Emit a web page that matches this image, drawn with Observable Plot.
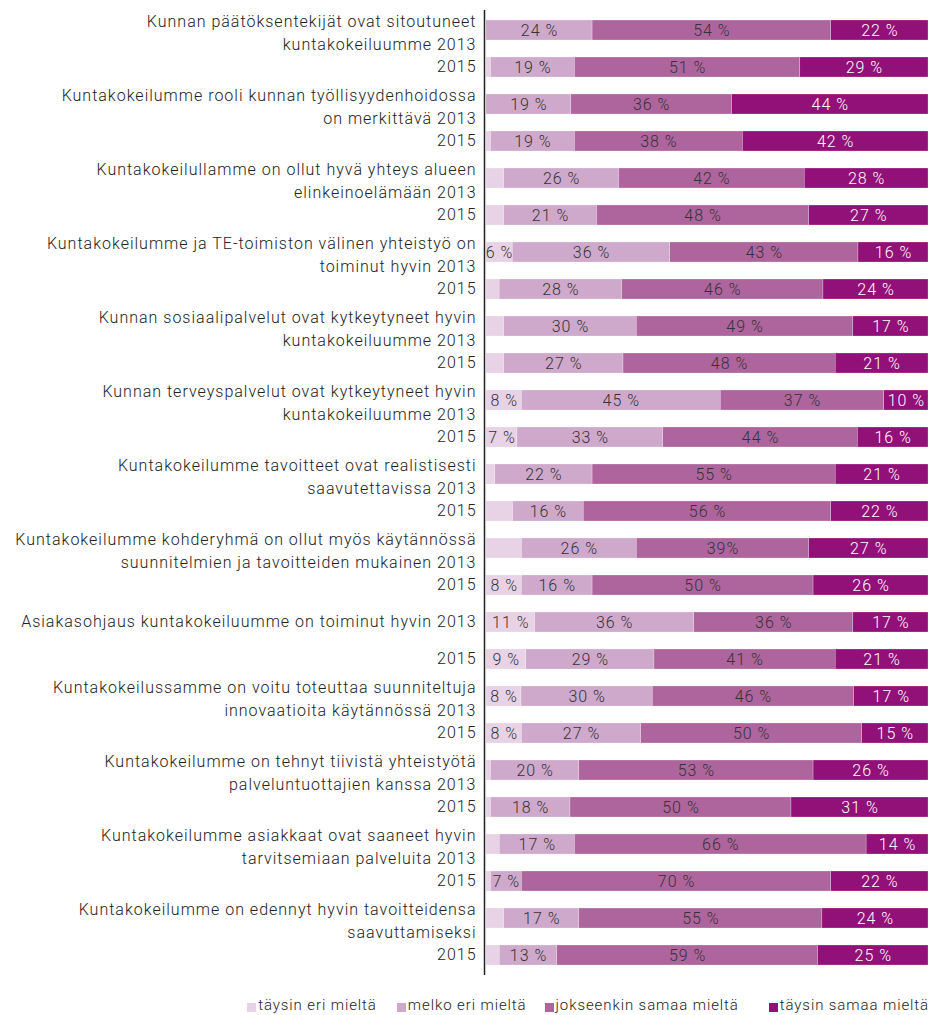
<!DOCTYPE html>
<html>
<head>
<meta charset="utf-8">
<script src="https://cdn.jsdelivr.net/npm/d3@7"></script>
<script src="https://cdn.jsdelivr.net/npm/@observablehq/plot@0.6"></script>
<style>
  body { margin: 0; background: #fff; font-family: Roboto, "Liberation Sans", sans-serif; font-weight: 300; }
  #chart svg text { letter-spacing: 1px; }
  #legend { display: flex; justify-content: flex-end; padding-right: 1px; margin-top: 11px; font-size: 15px; color: #222; letter-spacing: 0.9px; }
  #legend .item { display: flex; align-items: center; }
  #legend .sw { width: 9px; height: 9px; display: inline-block; margin-right: 2px; margin-top: 4px; }
</style>
</head>
<body>
<div id="chart"></div>
<div id="legend"></div>
<script>
const statements = [
  "Kunnan päätöksentekijät ovat sitoutuneet\nkuntakokeiluumme 2013",
  "Kuntakokeilumme rooli kunnan työllisyydenhoidossa\non merkittävä 2013",
  "Kuntakokeilullamme on ollut hyvä yhteys alueen\nelinkeinoelämään 2013",
  "Kuntakokeilumme ja TE-toimiston välinen yhteistyö on\ntoiminut hyvin 2013",
  "Kunnan sosiaalipalvelut ovat kytkeytyneet hyvin\nkuntakokeiluumme 2013",
  "Kunnan terveyspalvelut ovat kytkeytyneet hyvin\nkuntakokeiluumme 2013",
  "Kuntakokeilumme tavoitteet ovat realistisesti\nsaavutettavissa 2013",
  "Kuntakokeilumme kohderyhmä on ollut myös käytännössä\nsuunnitelmien ja tavoitteiden mukainen 2013",
  "Asiakasohjaus kuntakokeiluumme on toiminut hyvin 2013",
  "Kuntakokeilussamme on voitu toteuttaa suunniteltuja\ninnovaatioita käytännössä 2013",
  "Kuntakokeilumme on tehnyt tiivistä yhteistyötä\npalveluntuottajien kanssa 2013",
  "Kuntakokeilumme asiakkaat ovat saaneet hyvin\ntarvitsemiaan palveluita 2013",
  "Kuntakokeilumme on edennyt hyvin tavoitteidensa\nsaavuttamiseksi"
];
const secondYearLabel = "2015";

const categories = ["täysin eri mieltä", "melko eri mieltä", "jokseenkin samaa mieltä", "täysin samaa mieltä"];
const colors = ["#e8d3e6", "#cfa9cb", "#ae659d", "#921178"];

// values per row (2013, 2015 for each statement)
const taysinEri   = [0,1, 0,1, 4,4, 6,3, 4,4, 8,7, 2,6, 8,8, 11,9, 8,8, 1,1, 3,1, 4,3];
const melkoEri    = [24,19, 19,19, 26,21, 36,28, 30,27, 45,33, 22,16, 26,16, 36,29, 30,27, 20,18, 17,7, 17,13];
const jokseenkin  = [54,51, 36,38, 42,48, 43,46, 49,48, 37,44, 55,56, 39,50, 36,41, 46,50, 53,50, 66,70, 55,59];
const taysinSamaa = [22,29, 44,42, 28,27, 16,24, 17,21, 10,16, 21,22, 27,26, 17,21, 17,15, 26,31, 14,22, 24,25];

// rows where the smallest segment carries a visible label
const labelledTaysinEriRows = [6, 10, 11, 15, 16, 17, 18, 19];
// label written without the space in the original
const compactLabel = {row: 14, cat: "jokseenkin samaa mieltä"};
// legend gaps before each item (after the first)
const legendGaps = [0, 20, 18, 30];

const series = [taysinEri, melkoEri, jokseenkin, taysinSamaa];
const rowIds = [];
const rowLabels = [];
statements.forEach((s, i) => {
  rowIds.push(`r${i}a`); rowLabels.push(s);
  rowIds.push(`r${i}b`); rowLabels.push(secondYearLabel);
});

const data = [];
rowIds.forEach((id, r) => {
  categories.forEach((cat, c) => {
    const v = series[c][r];
    let label = `${v} %`;
    if (c === 0 && !labelledTaysinEriRows.includes(r)) label = "";
    if (r === compactLabel.row && cat === compactLabel.cat) label = `${v}%`;
    data.push({row: id, cat, value: v, label});
  });
});
const labelRows = rowIds.map((id, r) => ({row: id, text: rowLabels[r]}));
const multiLine = labelRows.filter(d => d.text.includes("\n"));
const singleLine = labelRows.filter(d => !d.text.includes("\n"));

const stackOpts = (extra) => Plot.stackX({x: "value", y: "row", z: "cat", offset: "normalize", order: categories, ...extra});
const labelOpts = {y: "row", text: "text", frameAnchor: "left", textAnchor: "end", dx: -10, lineHeight: 1.4, fontSize: 16, fontWeight: 300, fill: "#222"};

const chart = Plot.plot({
  width: 930,
  height: 985,
  marginLeft: 486,
  marginRight: 2,
  marginTop: 10,
  marginBottom: 10,
  style: {fontFamily: "Roboto, 'Liberation Sans', sans-serif", fontWeight: 300, background: "#fff"},
  x: {domain: [0, 1], axis: null},
  y: {domain: rowIds, axis: null, paddingInner: 0.46, paddingOuter: 0.23},
  color: {domain: categories, range: colors},
  marks: [
    Plot.barX(data, stackOpts({fill: "cat", stroke: "white", strokeWidth: 0.4, strokeOpacity: 0.6})),
    Plot.textX(data, stackOpts({text: d => d.cat === categories[3] ? "" : d.label, fill: "#333", fontSize: 16, fontWeight: 300})),
    Plot.textX(data, stackOpts({text: d => d.cat === categories[3] ? d.label : "", fill: "white", fontSize: 16, fontWeight: 300})),
    Plot.text(multiLine, {...labelOpts, dy: 1}),
    Plot.text(singleLine, {...labelOpts, dy: -3}),
    Plot.ruleX([0], {dx: -2, stroke: "#222", strokeWidth: 1.5})
  ]
});
document.getElementById("chart").appendChild(chart);

const legend = document.getElementById("legend");
categories.forEach((c, i) => {
  const it = document.createElement("span");
  it.className = "item";
  it.style.marginLeft = legendGaps[i] + "px";
  const sw = document.createElement("span");
  sw.className = "sw";
  sw.style.background = colors[i];
  it.appendChild(sw);
  it.appendChild(document.createTextNode(c));
  legend.appendChild(it);
});
</script>
</body>
</html>
